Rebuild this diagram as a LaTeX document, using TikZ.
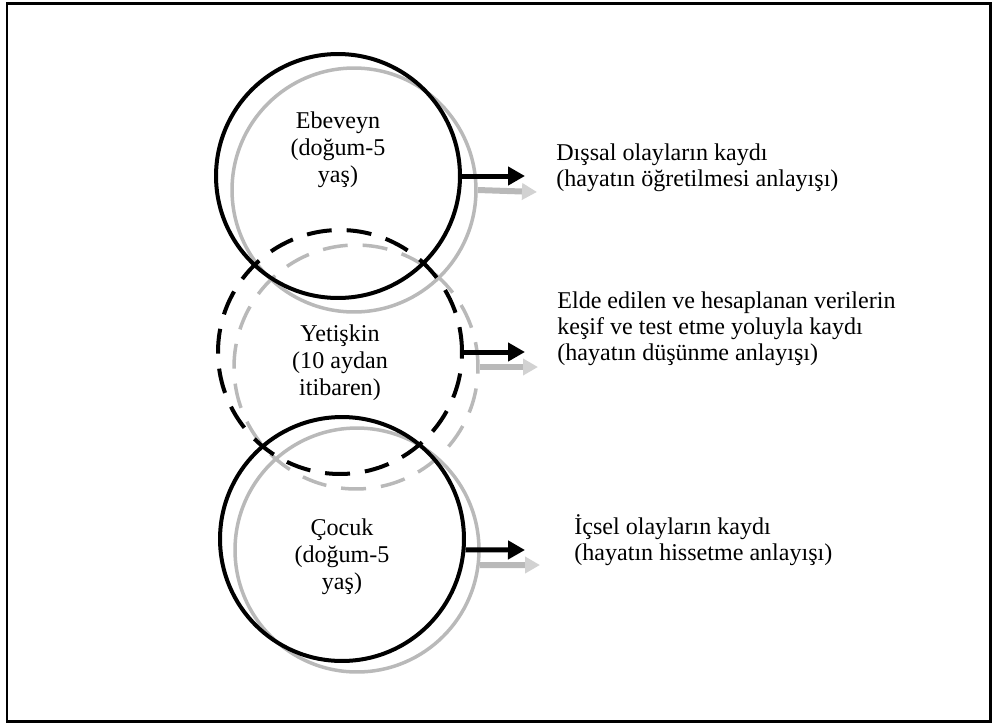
\documentclass[tikz,border=0pt]{standalone}
\usepackage{fontspec}
\setmainfont{Liberation Serif}
\usetikzlibrary{arrows.meta}

\begin{document}
\begin{tikzpicture}[
  x=0.02cm,
  y=-0.02cm,
  every node/.style={font=\fontsize{13.7}{14.8}\selectfont},
  ring/.style={circle, draw=black, line width=0.08cm, minimum size=4.88cm, inner sep=0pt},
  shadowring/.style={circle, draw=gray!55, line width=0.07cm, minimum size=4.88cm, inner sep=0pt},
  dashring/.style={ring, dash pattern=on 0.5cm off 0.3cm},
  shadowdash/.style={shadowring, dash pattern=on 0.5cm off 0.3cm},
  lead/.style={black, line width=0.1cm, -{Triangle[length=0.34cm, width=0.36cm]}},
  shadowlead/.style={gray!55, line width=0.12cm,
                     -{Triangle[length=0.3cm, width=0.32cm, color=gray!35]}},
  stage/.style={align=center, inner sep=0pt, font=\fontsize{13.7}{15.4}\selectfont},
  note/.style={align=left, anchor=west, inner sep=0pt}
]
  \useasboundingbox (0,0) rectangle (997,724);

  % ---- frame ----
  \draw[line width=0.06cm] (7,3) rectangle (990,721);

  % ---- shadow rings ----
  \node[shadowring] (ebeveynS) at (354,190) {};
  \node[shadowdash] (yetiskinS) at (356,367) {};
  \node[shadowring] (cocukS) at (357,550) {};

  % ---- rings ----
  \node[ring] (ebeveyn) at (338,176) {};
  \node[dashring] (yetiskin) at (340,352) {};
  \node[ring] (cocuk) at (342,539) {};

  % ---- texts in the rings ----
  \node[stage] (ebeveynT) at (338,150) {Ebeveyn\\(doğum-5\\yaş)};
  \node[stage] (yetiskinT) at (340,363) {Yetişkin\\(10 aydan\\itibaren)};
  \node[stage] (cocukT) at (342,557) {Çocuk\\(doğum-5\\yaş)};

  % ---- arrow tips ----
  \coordinate (tipA) at (525,176);
  \coordinate (tipB) at (525,352);
  \coordinate (tipC) at (525,550);
  \coordinate (tipAS) at (537,192);
  \coordinate (tipBS) at (538,367);
  \coordinate (tipCS) at (540,565);

  % ---- shadow arrows ----
  \draw[shadowlead] (ebeveynS.east) -- (tipAS);
  \draw[shadowlead] (yetiskinS.east) -- (tipBS);
  \draw[shadowlead] (cocukS.-7) -- (tipCS);

  % ---- arrows ----
  \draw[lead] (ebeveyn.east) -- (tipA);
  \draw[lead] (yetiskin.east) -- (tipB);
  \draw[lead] (cocuk.-5) -- (tipC);

  % ---- notes ----
  \node[note] (disNote) at (556,168) {Dışsal olayların kaydı\\(hayatın öğretilmesi anlayışı)};
  \node[note] (dusNote) at (557,329) {Elde edilen ve hesaplanan verilerin\\keşif ve test etme yoluyla kaydı\\(hayatın düşünme anlayışı)};
  \node[note] (icNote) at (574,540) {İçsel olayların kaydı\\(hayatın hissetme anlayışı)};
\end{tikzpicture}
\end{document}
